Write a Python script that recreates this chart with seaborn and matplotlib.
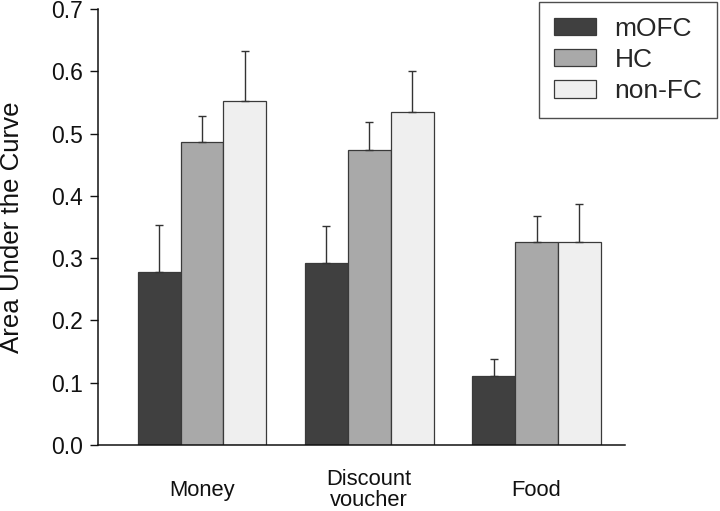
import matplotlib
matplotlib.use("Agg")
import matplotlib.pyplot as plt
import seaborn as sns
import pandas as pd

categories = ["Money", "Discount\nvoucher", "Food"]
groups = ["mOFC", "HC", "non-FC"]
mofc = [0.278, 0.293, 0.111]
hc = [0.487, 0.474, 0.326]
nonfc = [0.552, 0.534, 0.326]
mofc_err = [0.075, 0.059, 0.027]
hc_err = [0.042, 0.044, 0.042]
nonfc_err = [0.080, 0.066, 0.061]
colors = ["#404040", "#a9a9a9", "#efefef"]

rows = []
for g, vals, errs in zip(groups, [mofc, hc, nonfc], [mofc_err, hc_err, nonfc_err]):
    for c, v, e in zip(categories, vals, errs):
        rows.append({"cat": c, "grp": g, "val": v, "err": e})
df = pd.DataFrame(rows)

sns.set_style("ticks")
plt.rcParams["font.family"] = ["Liberation Sans", "DejaVu Sans"]

fig = plt.figure(figsize=(7.2, 5.11), dpi=100)
ax = fig.add_axes([98 / 720, 1 - 445 / 511, 527 / 720, 436 / 511])

sns.barplot(data=df, x="cat", y="val", hue="grp", order=categories, hue_order=groups,
            palette=colors, width=0.77, gap=0, edgecolor="#3a3a3a", linewidth=0.9,
            errorbar=None, ax=ax)

for cont, g in zip(ax.containers, groups):
    sub = df[df["grp"] == g].set_index("cat").loc[categories]
    for patch, e in zip(cont.patches, sub["err"]):
        x = patch.get_x() + patch.get_width() / 2
        y = patch.get_height()
        ax.errorbar(x, y, yerr=[[0], [e]], fmt="none", ecolor="#333333",
                    elinewidth=1.0, capsize=2.6, capthick=1.0, zorder=1)

ax.set_ylim(0, 0.7)
ax.set_xlim(-0.622, 2.529)
ax.set_yticks([0.0, 0.1, 0.2, 0.3, 0.4, 0.5, 0.6, 0.7])
ax.set_yticklabels([f"{v:.1f}" for v in [0.0, 0.1, 0.2, 0.3, 0.4, 0.5, 0.6, 0.7]])
ax.tick_params(axis="y", length=6, width=1.0, pad=5, labelsize=16.5, colors="#111111")
ax.tick_params(axis="x", length=0, pad=32.5, labelsize=15.8, colors="#111111")
for lab in ax.get_xticklabels():
    lab.set_va("center")
    lab.set_linespacing(1.0)

ax.set_xlabel("")
ax.set_ylabel("Area Under the Curve", fontsize=18.6, color="#111111")
ax.yaxis.set_label_coords(-0.163, 0.5)
ax.yaxis.label.set_va("center")

sns.despine(ax=ax)
for s in ["left", "bottom"]:
    ax.spines[s].set_linewidth(1.1)
    ax.spines[s].set_color("#111111")

leg = ax.legend(loc="upper right", bbox_to_anchor=(717 / 720, 1 - 2 / 511),
                bbox_transform=fig.transFigure, borderaxespad=0, fontsize=19,
                handlelength=1.6, handleheight=0.62, handletextpad=0.7,
                borderpad=0.55, labelspacing=0.28, fancybox=False, frameon=True)
leg.get_frame().set_edgecolor("#222222")
leg.get_frame().set_linewidth(1.0)

fig.savefig("out.png", dpi=100, facecolor="white")
